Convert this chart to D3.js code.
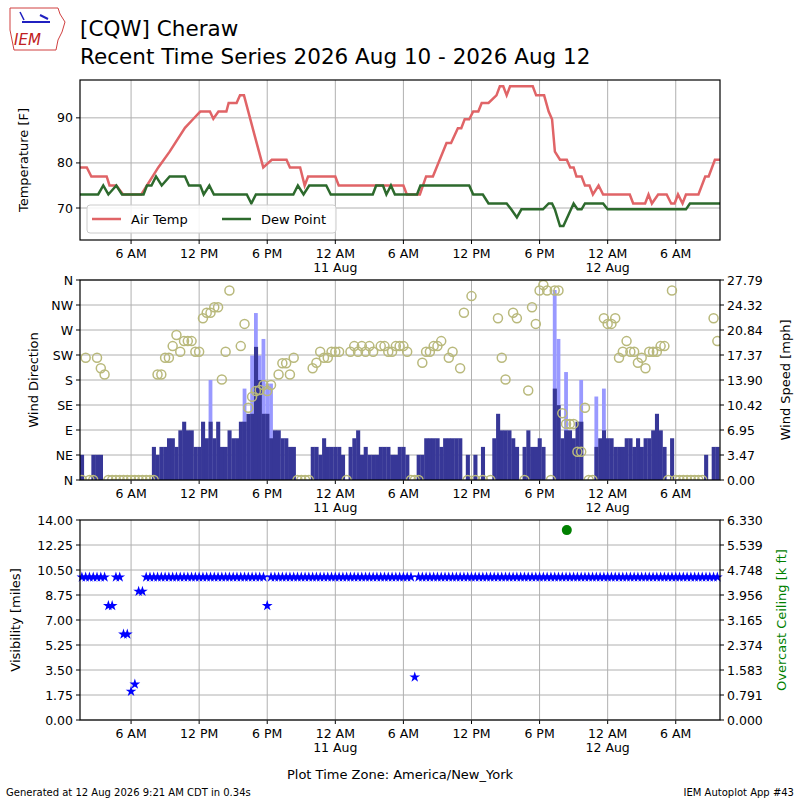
<!DOCTYPE html>
<html><head><meta charset="utf-8">
<script src="https://cdn.jsdelivr.net/npm/d3@7"></script>
<style>body{margin:0;background:#fff}text{font-family:"DejaVu Sans",sans-serif}</style>
</head><body><svg id="c" width="800" height="800"></svg>
<script>
// ---- data ----
const startTime = "2026-08-10T01:30:00Z"; // local America/New_York shown as-is
const endHours = 56.4;
const tempHours = [0,0.6,1.0,2.35,2.6,3.2,3.8,5.4,5.9,6.9,7.9,9.25,10,10.6,11.45,11.75,12.2,12.9,13.1,13.8,14.1,14.45,15.4,16.15,16.9,18.2,18.5,19.4,19.8,20.1,22.5,22.8,28.5,28.8,29.95,30.5,31.1,32.3,32.7,33.3,33.6,33.9,34.3,34.65,35.1,35.4,36,36.7,37,37.3,37.6,37.9,39.9,40.2,40.9,41.3,41.6,41.85,42.3,42.9,43.2,43.5,43.75,44.2,44.5,44.9,45.2,45.7,46.1,48.45,48.75,49.8,50.1,50.4,50.95,51.7,52.1,52.4,52.7,53.1,53.4,54.5,55.1,55.4,55.95,56.4];
const tempVals  = [79,79,77,77,75,75,73,73,75,79,82.5,87.8,89.8,91.4,91.4,89.8,91.4,91.4,93.3,93.3,95,95,86,79,80.7,80.7,79,79,75,77,77,75,75,73,73,77,77,84.4,84.4,87.7,87.7,89.7,89.7,91.4,91.4,93.3,93.3,95,97,97,95,97,97,95,95,91.4,89.7,82.5,80.7,80.7,79,79,77,77,75,75,73,75,73,73,71,71,73,71,73,73,71,71,73,71,73,73,77,77,80.7,80.7];
const dewHours = [0,1.6,2.05,2.5,3.2,3.7,5.6,5.9,6.3,6.7,7.2,7.9,9.25,9.6,10.6,10.9,11.4,11.8,14.7,15.1,15.5,18.8,19.2,19.7,20.2,21.7,22.1,25.8,26.1,26.7,27,27.4,27.75,29.7,30,34.3,34.65,35.5,36,37.6,38,38.5,38.9,40.8,41.3,41.6,41.85,42.3,42.6,43.5,43.85,44.2,44.5,46.1,46.5,53.4,53.75,56.4];
const dewVals  = [73,73,75,73,75,73,73,75,75,77,75,77,77,75,75,73,75,73,73,71,73,73,75,73,75,75,73,73,75,75,73,75,73,73,75,75,73,73,71,71,69.7,67.9,69.7,69.7,71,71,69.7,66,66,71,69.7,69.7,71,71,69.7,69.7,71,71];
// 20-minute observations of wind
const windSpeed = [3.5,0,0,3.5,3.5,3.5,0,0,0,0,0,0,0,0,0,0,0,0,0,4.6,3.5,4.6,4.6,5.8,5.8,4.6,6.9,8.1,6.9,6.9,4.6,4.6,8.1,5.8,8.1,5.8,8.1,4.6,4.6,6.9,5.8,5.8,8.1,8.1,9.2,9.2,18.5,13.9,9.2,9.2,5.8,6.9,6.9,5.8,5.8,4.6,4.6,0,0,0,0,4.6,4.6,3.5,5.8,4.6,4.6,4.6,4.6,3.5,0,4.6,5.8,6.9,3.5,4.6,3.5,3.5,3.5,4.6,4.6,4.6,3.5,3.5,4.6,4.6,3.5,0,0,3.5,3.5,5.8,5.8,5.8,5.8,4.6,5.8,5.8,5.8,5.8,5.8,0,3.5,0,3.5,0,4.6,0,0,5.8,9.2,6.9,6.9,6.9,5.8,4.6,0,4.6,6.9,4.6,4.6,5.8,4.6,0,0,12.7,10.4,5.8,6.9,6.9,5.8,8.1,8.1,0,0,0,4.6,5.8,6.9,5.8,5.8,4.6,4.6,4.6,5.8,5.8,4.6,5.8,4.6,5.8,5.8,6.9,9.2,6.9,4.6,0,5.8,0,0,0,0,0,0,0,0,3.5,0,4.6,4.6];
const windGust = {34:13.9,43:12.7,45:17.3,46:23.2,47:17.3,48:19.6,49:13.4,50:13.4,125:26.4,126:19.6,128:15,132:13.9,136:11.6,138:12.7};
const windDir = [0,220,0,0,220,201,190,0,0,0,0,0,0,0,0,0,0,0,0,0,190,190,220,220,241,261,231,250,250,250,231,231,291,301,301,311,311,181,231,341,null,null,241,281,130,150,160,162,171,160,171,null,190,210,210,190,220,0,0,0,0,201,211,231,220,220,231,231,231,null,0,231,241,231,241,231,241,231,null,241,241,231,231,241,241,241,231,0,0,0,211,231,231,241,241,250,null,220,231,null,201,301,0,331,0,null,0,null,0,null,291,220,181,null,301,291,null,0,161,311,281,341,351,341,0,341,341,120,101,101,101,51,51,130,0,0,null,null,291,281,281,291,220,231,250,231,231,211,220,201,231,231,231,241,241,0,341,0,0,0,0,0,0,0,0,null,null,291,250];
const visibility = [10,10,10,10,10,10,10,8,8,10,10,6,6,2,2.5,9,9,10];
const visDefault = 10;
const visExceptions = {49:8, 88:3};
const ceilingSlot = 128.7, ceilingKft = 6.01;
const dirLabels = ["N","NE","E","SE","S","SW","W","NW","N"];

// ---- drawing ----
const svg = d3.select("#c");
const t0 = new Date(startTime);
const H = 3600e3;
const toDate = h => new Date(t0.getTime() + h*H);
const x = d3.scaleUtc().domain([t0, toDate(endHours)]).range([80,720]);
const ticks = d3.range(4.5, endHours, 6).map(toDate);
const fmt = d => { const h=d.getUTCHours(); return h===0?"12 AM":h===12?"12 PM":(h%12)+(h<12?" AM":" PM"); };
const grid = "#b0b0b0";

function frame(top,bot){
  const g = svg.append("g");
  ticks.forEach(t=>{
    g.append("line").attr("x1",x(t)).attr("x2",x(t)).attr("y1",top).attr("y2",bot).attr("stroke",grid).attr("stroke-width",1);
    g.append("line").attr("x1",x(t)).attr("x2",x(t)).attr("y1",bot).attr("y2",bot+4).attr("stroke","#000");
    g.append("text").attr("x",x(t)).attr("y",bot+18).attr("text-anchor","middle").attr("font-size",12.5).text(fmt(t));
    if (t.getUTCHours()===0) g.append("text").attr("x",x(t)).attr("y",bot+32).attr("text-anchor","middle").attr("font-size",12.5)
       .text(d3.utcFormat("%d %b")(t));
  });
  return g;
}
function yGrid(vals, y){
  vals.forEach(v=>svg.append("line").attr("x1",80).attr("x2",720).attr("y1",y(v)).attr("y2",y(v)).attr("stroke",grid));
}
function border(top,bot){
  svg.append("rect").attr("x",80).attr("y",top).attr("width",640).attr("height",bot-top).attr("fill","none").attr("stroke","#000").attr("stroke-width",1.2);
}
function yAxisTicks(vals,y,side,fmtf,color){
  vals.forEach(v=>{
    const xx = side==="l"?80:720, d = side==="l"?-4:4;
    svg.append("line").attr("x1",xx).attr("x2",xx+d).attr("y1",y(v)).attr("y2",y(v)).attr("stroke","#000");
    svg.append("text").attr("x",xx+(side==="l"?-7:7)).attr("y",y(v)+4.5).attr("text-anchor",side==="l"?"end":"start")
      .attr("font-size",12.5).attr("fill","#000").text(fmtf(v));
  });
}
function yLabel(txt,xx,cy,color){
  svg.append("text").attr("transform",`translate(${xx},${cy}) rotate(-90)`).attr("text-anchor","middle").attr("font-size",13).attr("fill",color||"#000").text(txt);
}
const slotDate = i => toDate(i/3);

// Panel 1: temperature
const yT = d3.scaleLinear().domain([62.9,98.4]).range([240,80]);
frame(80,240); yGrid([70,80,90],yT);
svg.append("clipPath").attr("id","cp1").append("rect").attr("x",80).attr("y",80).attr("width",640).attr("height",160);
const line = d3.line().x(d=>x(toDate(d[0]))).y(d=>yT(d[1]));
svg.append("path").attr("clip-path","url(#cp1)").attr("d",line(tempHours.map((h,i)=>[h,tempVals[i]]))).attr("fill","none").attr("stroke","#e06467").attr("stroke-width",2.5);
svg.append("path").attr("clip-path","url(#cp1)").attr("d",line(dewHours.map((h,i)=>[h,dewVals[i]]))).attr("fill","none").attr("stroke","#2d6a2d").attr("stroke-width",2.5);
border(80,240); yAxisTicks([70,80,90],yT,"l",d=>d);
yLabel("Temperature [F]",28,160);
const lg = svg.append("g");
lg.append("rect").attr("x",87).attr("y",205).attr("width",249).attr("height",28).attr("rx",3).attr("fill","#fff").attr("fill-opacity",0.85).attr("stroke","#ccc");
lg.append("line").attr("x1",92).attr("x2",121).attr("y1",219).attr("y2",219).attr("stroke","#e06467").attr("stroke-width",2.5);
lg.append("text").attr("x",131).attr("y",224).attr("font-size",13).text("Air Temp");
lg.append("line").attr("x1",222).attr("x2",251).attr("y1",219).attr("y2",219).attr("stroke","#2d6a2d").attr("stroke-width",2.5);
lg.append("text").attr("x",261).attr("y",224).attr("font-size",13).text("Dew Point");

// Panel 2: wind
const wMax = 27.792;
const yW = d3.scaleLinear().domain([0,wMax]).range([480,280]);
const yD = d3.scaleLinear().domain([0,360]).range([480,280]);
frame(280,480); yGrid(d3.range(0,361,45),yD);
const bw = x(slotDate(1))-x(slotDate(0));
svg.append("clipPath").attr("id","cp2").append("rect").attr("x",80).attr("y",280).attr("width",640).attr("height",200);
const wg = svg.append("g").attr("clip-path","url(#cp2)");
Object.entries(windGust).forEach(([i,v])=>{
  wg.append("rect").attr("x",x(slotDate(+i))).attr("width",bw).attr("y",yW(v)).attr("height",480-yW(v)).attr("fill","#9999ff");
});
windSpeed.forEach((v,i)=>{ if(v>0) wg.append("rect").attr("x",x(slotDate(i))).attr("width",bw+0.3).attr("y",yW(v)).attr("height",480-yW(v)).attr("fill","#373797"); });
windDir.forEach((v,i)=>{ if(v!==null) wg.append("circle").attr("cx",x(slotDate(i))+bw/2).attr("cy",yD(v)).attr("r",4.5).attr("fill","none").attr("stroke","#b9b97c").attr("stroke-width",1.5); });
border(280,480);
yAxisTicks(d3.range(0,361,45),yD,"l",d=>dirLabels[d/45]);
yAxisTicks(d3.range(0,9).map(i=>wMax*i/8),yW,"r",d=>d.toFixed(2));
yLabel("Wind Direction",38,380); yLabel("Wind Speed [mph]",790,380);

// Panel 3: visibility
const yV = d3.scaleLinear().domain([0,14]).range([720,520]);
const yC = d3.scaleLinear().domain([0,6.33]).range([720,520]);
frame(520,720); yGrid(d3.range(0,8).map(i=>i*1.75),yV);
const star = d3.symbol().type(d3.symbolStar).size(36);
for(let i=0;i<windSpeed.length;i++){
  const v = i<visibility.length?visibility[i]:(visExceptions[i]!==undefined?visExceptions[i]:visDefault);
  svg.append("path").attr("d",star).attr("transform",`translate(${x(slotDate(i))+bw/2},${yV(v)})`).attr("fill","#0000ff");
}
svg.append("circle").attr("cx",x(slotDate(ceilingSlot))).attr("cy",yC(ceilingKft)).attr("r",5).attr("fill","#008000");
border(520,720);
yAxisTicks(d3.range(0,9).map(i=>i*1.75),yV,"l",d=>d.toFixed(2));
yAxisTicks(d3.range(0,9).map(i=>6.33*i/8),yC,"r",d=>d.toFixed(3));
yLabel("Visibility [miles]",20,620); yLabel("Overcast Ceiling [k ft]",786,620,"#008000");
svg.append("text").attr("x",400).attr("y",779).attr("text-anchor","middle").attr("font-size",13).text("Plot Time Zone: America/New_York");

// titles
svg.append("text").attr("x",80).attr("y",36).attr("font-size",21.5).text("[CQW] Cheraw");
svg.append("text").attr("x",80).attr("y",64).attr("font-size",21.5).text("Recent Time Series 2026 Aug 10 - 2026 Aug 12");
svg.append("text").attr("x",6).attr("y",796).attr("font-size",10).text("Generated at 12 Aug 2026 9:21 AM CDT in 0.34s");
svg.append("text").attr("x",794).attr("y",796).attr("text-anchor","end").attr("font-size",10).text("IEM Autoplot App #43");
// logo
const lo = svg.append("g");
lo.append("path").attr("d","M10,8 L58,8 L60,14 L65,22 L62,32 L58,40 L56,50 L14,50 L12,40 L10,30 Z").attr("fill","none").attr("stroke","#d04040").attr("stroke-width",1);
lo.append("line").attr("x1",22).attr("x2",50).attr("y1",22).attr("y2",22).attr("stroke","#2020c0").attr("stroke-width",2);
lo.append("line").attr("x1",20).attr("x2",24).attr("y1",12).attr("y2",20).attr("stroke","#2020c0").attr("stroke-width",1.5);
lo.append("line").attr("x1",40).attr("x2",48).attr("y1",15).attr("y2",19).attr("stroke","#2020c0").attr("stroke-width",2);
lo.append("text").attr("x",14).attr("y",45).attr("font-size",15).attr("font-style","italic").attr("font-family","Liberation Serif,serif").attr("fill","#c02020").text("IEM");
</script></body></html>
